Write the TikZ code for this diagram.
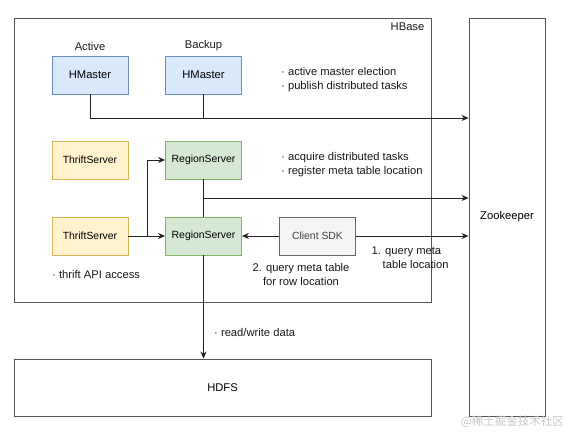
\documentclass[tikz,border=0pt]{standalone}
\usepackage{fontspec}
\setmainfont{Liberation Sans}
\newfontfamily\cjk{Noto Sans CJK SC}
\usetikzlibrary{arrows.meta,calc}
\definecolor{bluef}{HTML}{DAE8FC}\definecolor{blued}{HTML}{6C8EBF}
\definecolor{yelf}{HTML}{FFF2CC}\definecolor{yeld}{HTML}{D6B656}
\definecolor{grnf}{HTML}{D5E8D4}\definecolor{grnd}{HTML}{82B366}
\definecolor{gryf}{HTML}{F5F5F5}\definecolor{gryd}{HTML}{666666}
\definecolor{linec}{HTML}{222222}\definecolor{framec}{HTML}{555555}
\tikzset{
  txt/.style={font=\fontsize{11.2}{14}\selectfont, inner sep=0pt, text=black!90},
  comp/.style={draw, line width=0.8pt, minimum width=76pt, minimum height=38pt, inner sep=0pt, font=\fontsize{10.4}{13}\selectfont},
  master/.style={comp, fill=bluef, draw=blued, font=\fontsize{11.2}{13}\selectfont},
  thrift/.style={comp, fill=yelf, draw=yeld},
  region/.style={comp, fill=grnf, draw=grnd},
  client/.style={comp, fill=gryf, draw=gryd, text=black!75},
  frame/.style={draw=framec, line width=0.9pt, inner sep=0pt, font=\fontsize{11.2}{13}\selectfont},
  conn/.style={draw=linec, line width=0.9pt},
  arr/.style={conn, -{Stealth[length=7pt,width=6pt]}},
}
\begin{document}
\begin{tikzpicture}[x=1pt,y=-1pt]
\useasboundingbox (0,0) rectangle (567,432);
% frames
\node[frame, minimum width=417pt, minimum height=284pt] (hbase) at (222.5,160) {};
\node[txt, anchor=center] (hbl) at (407.5,27) {HBase};
\node[frame, minimum width=76pt, minimum height=398pt] (zk) at (507,217) {Zookeeper};
\node[frame, minimum width=417pt, minimum height=57pt] (hdfs) at (222.5,387.5) {HDFS};
% components
\node[master] (am) at (90,75) {HMaster};
\node[master] (bm) at (203.5,75) {HMaster};
\node[txt] (aml) at (90,46) {Active};
\node[txt] (bml) at (203.5,46) {Backup};
\node[thrift] (ts1) at (90,160) {ThriftServer};
\node[thrift] (ts2) at (90,236) {ThriftServer};
\node[region] (rs1) at (203.5,160) {RegionServer};
\node[region] (rs2) at (203.5,236) {RegionServer};
\node[client] (sdk) at (317.5,236) {Client SDK};
% texts
\node[txt, anchor=west, align=left] (t1) at (281,79.5) {· active master election\\· publish distributed tasks};
\node[txt, anchor=west, align=left] (t2) at (281,165) {· acquire distributed tasks\\· register meta table location};
\node[txt, anchor=west] (t3) at (52,274) {· thrift API access};
\node[txt, anchor=center, align=center] (t4) at (301,274) {2. query meta table\\for row location};
\node[txt, anchor=west, align=left] (t5) at (371.5,258) {1. query meta\\\hspace*{11pt}table location};
\node[txt, anchor=west] (t6) at (214,332) {· read/write data};
\node[anchor=east, inner sep=0pt, text=black!22, font=\cjk\fontsize{11.5}{13}\selectfont] (wm) at (564,422) {@稀土掘金技术社区};
% connectors
\coordinate (bus1) at (203.5,118);
\draw[conn] (am.south) |- (bus1);
\draw[conn] (bm.south) -- (bus1);
\draw[arr] (bus1) -- (bus1 -| zk.west);
\coordinate (bus2) at (203.5,198);
\draw[conn] (rs1.south) -- (rs2.north);
\draw[arr] (bus2) -- (bus2 -| zk.west);
\draw[arr] (ts2.east) -- (rs2.west);
\coordinate (br) at (147,236);
\draw[arr] (br) |- (rs1.west);
\draw[arr] (sdk.west) -- (rs2.east);
\draw[arr] (sdk.east) -- (sdk.east -| zk.west);
\draw[arr] (rs2.south) -- (rs2.south |- hdfs.north);
\end{tikzpicture}
\end{document}
